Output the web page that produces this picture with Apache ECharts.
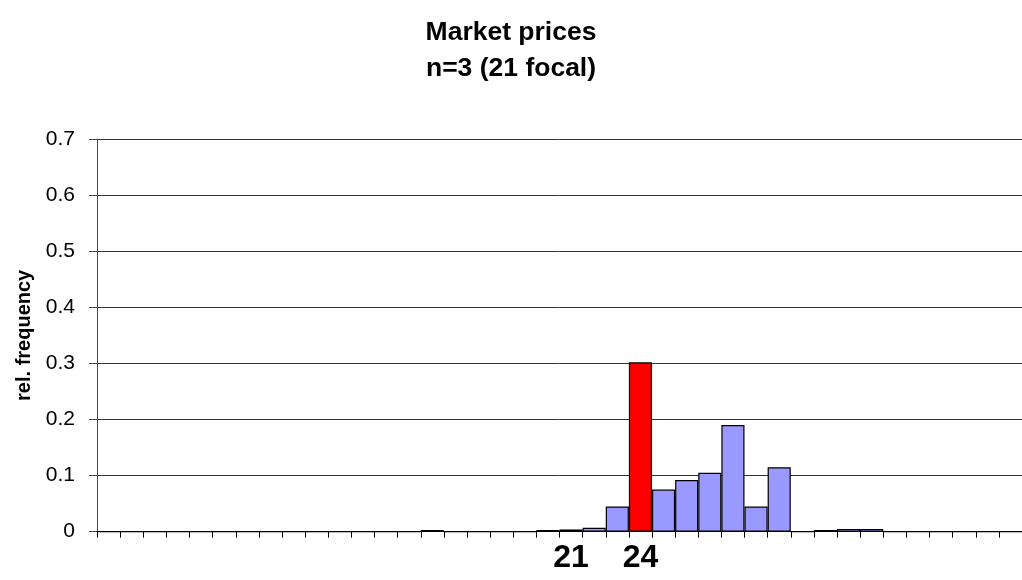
<!DOCTYPE html>
<html>
<head>
<meta charset="utf-8">
<script src="https://cdn.jsdelivr.net/npm/echarts@6/dist/echarts.min.js"></script>
<style>
html,body{margin:0;padding:0;background:#fff;}
#chart{width:1022px;height:580px;}
</style>
</head>
<body>
<div id="chart"></div>
<script>
var titleLines = ['Market prices', 'n=3 (21 focal)'];
var yAxisName = 'rel. frequency';
var categories = ['1','2','3','4','5','6','7','8','9','10','11','12','13','14','15','16','17','18','19','20',
                  '21','22','23','24','25','26','27','28','29','30','31','32','33','34','35','36','37','38','39','40'];
var values = [0,0,0,0,0,0,0,0,0,0,0,0,0,0,0.003,0,0,0,0,0.003,
              0.004,0.007,0.045,0.302,0.075,0.092,0.105,0.19,0.045,0.115,0,0.003,0.005,0.005,0,0,0,0,0,0];
var highlighted = ['21','24'];
var shownLabels = ['21','24'];

var chart = echarts.init(document.getElementById('chart'));
var data = values.map(function (v, i) {
  return {
    value: v,
    itemStyle: { color: highlighted.indexOf(categories[i]) >= 0 ? '#FF0000' : '#9999FF' }
  };
});
chart.setOption({
  animation: false,
  backgroundColor: '#fff',
  title: {
    text: titleLines.join('\n'),
    left: 'center',
    top: 10,
    textStyle: { fontFamily: 'Liberation Sans, Arial, sans-serif', fontWeight: 'bold', fontSize: 26.5, color: '#000', lineHeight: 36 }
  },
  grid: { left: 97, top: 139, width: 927, height: 392.7, containLabel: false },
  xAxis: {
    type: 'category',
    data: categories,
    boundaryGap: true,
    axisLine: { lineStyle: { color: '#000', width: 1 } },
    axisTick: { show: true, length: 6, interval: 0, lineStyle: { color: '#000' } },
    axisLabel: {
      interval: 0,
      margin: 10,
      formatter: function (v) { return shownLabels.indexOf(v) >= 0 ? v : ''; },
      fontFamily: 'Liberation Sans, Arial, sans-serif', fontWeight: 'bold', fontSize: 32, color: '#000'
    },
    splitLine: { show: false }
  },
  yAxis: {
    type: 'value',
    min: 0, max: 0.7, interval: 0.1,
    name: yAxisName,
    nameLocation: 'middle',
    nameRotate: 90,
    nameGap: 62,
    nameTextStyle: { fontFamily: 'Liberation Sans, Arial, sans-serif', fontWeight: 'bold', fontSize: 20, color: '#000' },
    axisLine: { show: true, lineStyle: { color: '#444', width: 1 } },
    axisTick: { show: true, length: 8, lineStyle: { color: '#444' } },
    axisLabel: {
      margin: 22,
      fontFamily: 'Liberation Sans, Arial, sans-serif', fontSize: 21, color: '#000'
    },
    splitLine: { show: true, lineStyle: { color: '#333', width: 1 } }
  },
  series: [{
    type: 'bar',
    data: data,
    barCategoryGap: '0%',
    itemStyle: { borderColor: '#000', borderWidth: 1.2 }
  }]
});
</script>
</body>
</html>
